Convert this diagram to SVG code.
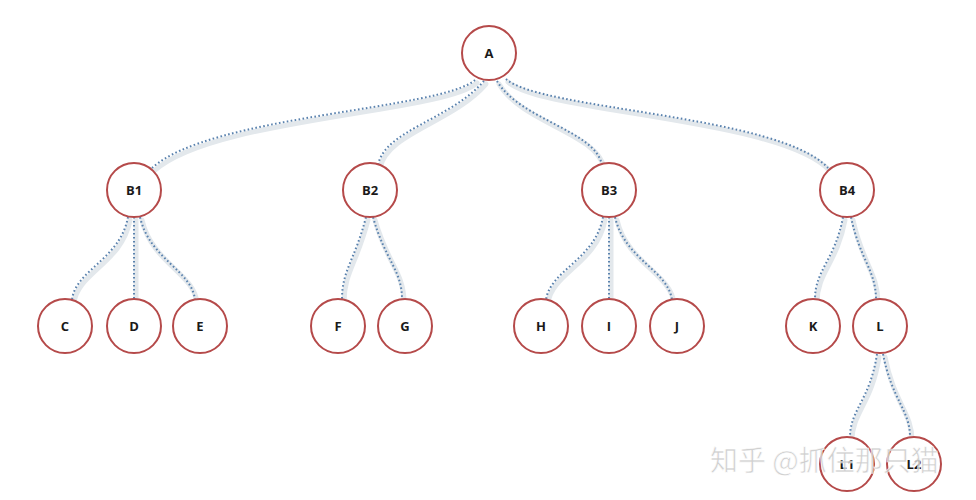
<svg xmlns="http://www.w3.org/2000/svg" width="976" height="500" viewBox="0 0 976 500">
<defs>
<style>
.n circle{fill:#fff;stroke:#b54a4a;stroke-width:2}
.n text{font-family:"Open Sans","Liberation Sans",sans-serif;font-weight:bold;font-size:13px;fill:#1a1a1a;text-anchor:middle;dominant-baseline:central}
.sh{fill:none;stroke:#e3e8ec;stroke-width:5;stroke-linecap:round}
.dl{fill:none;stroke:#5a82ae;stroke-width:2;stroke-dasharray:1.6 2.4}
.wm{font-family:"Noto Sans CJK SC",sans-serif;font-size:28px;fill:#c8c8c8;stroke:#fff;stroke-width:0.6;opacity:0.85}
</style>
</defs>
<rect width="976" height="500" fill="#fff"/>
<g id="connectors">
<g transform="translate(2,3)">
<path class="sh" d="M475,80 C440,110 210,115 152,168"/>
<path class="sh" d="M484,81 C450,120 385,130 378,165"/>
<path class="sh" d="M497,81 C520,120 595,130 602,165"/>
<path class="sh" d="M506,79 C540,110 780,115 828,168"/>
<path class="sh" d="M128,217 C120,260 75,270 72,300"/>
<path class="sh" d="M134,217 L134,299"/>
<path class="sh" d="M140,217 C150,260 192,270 195,300"/>
<path class="sh" d="M366,217 C355,260 342,270 342,299"/>
<path class="sh" d="M373,217 C385,260 402,270 402,299"/>
<path class="sh" d="M603,217 C595,260 550,270 546,300"/>
<path class="sh" d="M609,217 L609,299"/>
<path class="sh" d="M615,217 C625,260 668,270 672,300"/>
<path class="sh" d="M843,217 C835,260 815,270 815,299"/>
<path class="sh" d="M851,217 C860,260 876,270 876,300"/>
<path class="sh" d="M877,354 C870,400 850,410 850,437"/>
<path class="sh" d="M883,354 C892,400 910,410 910,437"/>
</g>
<path class="dl" d="M475,80 C440,110 210,115 152,168"/>
<path class="dl" d="M484,81 C450,120 385,130 378,165"/>
<path class="dl" d="M497,81 C520,120 595,130 602,165"/>
<path class="dl" d="M506,79 C540,110 780,115 828,168"/>
<path class="dl" d="M128,217 C120,260 75,270 72,300"/>
<path class="dl" d="M134,217 L134,299"/>
<path class="dl" d="M140,217 C150,260 192,270 195,300"/>
<path class="dl" d="M366,217 C355,260 342,270 342,299"/>
<path class="dl" d="M373,217 C385,260 402,270 402,299"/>
<path class="dl" d="M603,217 C595,260 550,270 546,300"/>
<path class="dl" d="M609,217 L609,299"/>
<path class="dl" d="M615,217 C625,260 668,270 672,300"/>
<path class="dl" d="M843,217 C835,260 815,270 815,299"/>
<path class="dl" d="M851,217 C860,260 876,270 876,300"/>
<path class="dl" d="M877,354 C870,400 850,410 850,437"/>
<path class="dl" d="M883,354 C892,400 910,410 910,437"/>
</g>
<g id="A" class="n"><circle cx="489" cy="53" r="27"/><text x="489" y="53">A</text></g>
<g id="B1" class="n"><circle cx="134" cy="190" r="27"/><text x="134" y="190">B1</text></g>
<g id="B2" class="n"><circle cx="370" cy="190" r="27"/><text x="370" y="190">B2</text></g>
<g id="B3" class="n"><circle cx="609" cy="190" r="27"/><text x="609" y="190">B3</text></g>
<g id="B4" class="n"><circle cx="847" cy="190" r="27"/><text x="847" y="190">B4</text></g>
<g id="C" class="n"><circle cx="65" cy="326" r="27"/><text x="65" y="326">C</text></g>
<g id="D" class="n"><circle cx="134" cy="326" r="27"/><text x="134" y="326">D</text></g>
<g id="E" class="n"><circle cx="200" cy="326" r="27"/><text x="200" y="326">E</text></g>
<g id="F" class="n"><circle cx="338" cy="326" r="27"/><text x="338" y="326">F</text></g>
<g id="G" class="n"><circle cx="405" cy="326" r="27"/><text x="405" y="326">G</text></g>
<g id="H" class="n"><circle cx="541" cy="326" r="27"/><text x="541" y="326">H</text></g>
<g id="I" class="n"><circle cx="609" cy="326" r="27"/><text x="609" y="326">I</text></g>
<g id="J" class="n"><circle cx="677" cy="326" r="27"/><text x="677" y="326">J</text></g>
<g id="K" class="n"><circle cx="813" cy="326" r="27"/><text x="813" y="326">K</text></g>
<g id="L" class="n"><circle cx="880" cy="326" r="27"/><text x="880" y="326">L</text></g>
<g id="L1" class="n"><circle cx="847" cy="464" r="27"/><text x="847" y="464">L1</text></g>
<g id="L2" class="n"><circle cx="914" cy="464" r="27"/><text x="914" y="464">L2</text></g>
<text class="wm" x="710" y="471">知乎 @抓住那只猫</text>
</svg>
